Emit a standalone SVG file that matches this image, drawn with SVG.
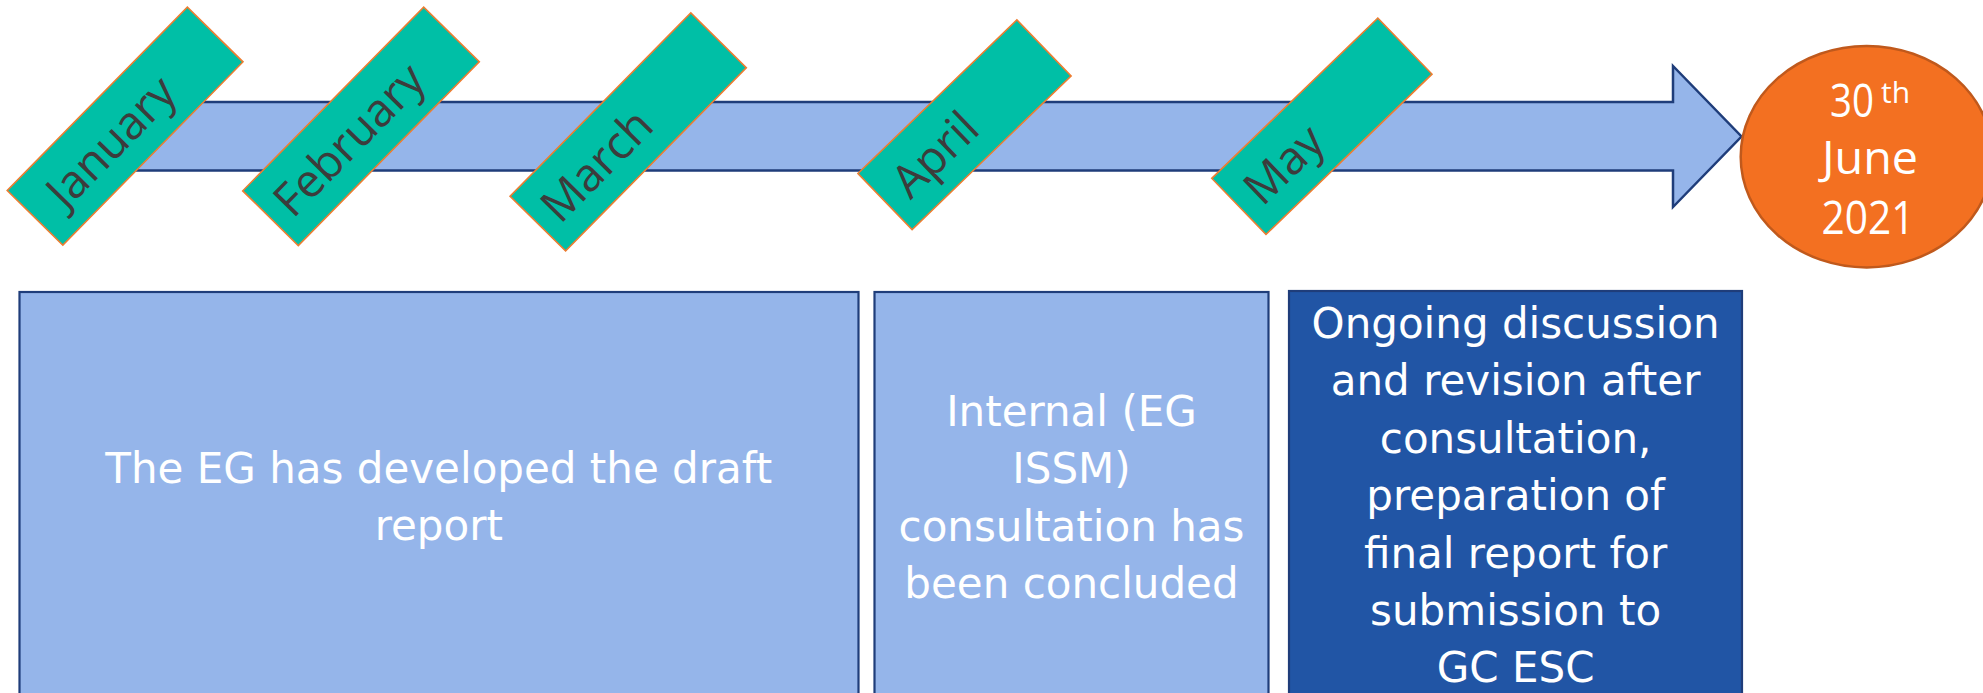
<svg xmlns="http://www.w3.org/2000/svg" width="1983" height="693" viewBox="0 0 1983 693">
<style>
.tag{fill:#00BFA6;stroke:#ED7D31;stroke-width:1.6}
.mon{font-family:"Open Sans","DejaVu Sans",sans-serif;font-size:46px;fill:#3C3C3C;text-anchor:middle}
.box{fill:#95B5EA;stroke:#1F3D7A;stroke-width:2.2}
.box3{fill:#2155A5;stroke:#1F3D7A;stroke-width:2.2}
.bt{font-family:"DejaVu Sans","Liberation Sans",sans-serif;font-size:42px;fill:#FFFFFF;text-anchor:middle}
.ct{font-family:"Open Sans","Liberation Sans",sans-serif;font-size:46px;fill:#FFFFFF;text-anchor:middle}
</style>
<rect width="1983" height="693" fill="#FFFFFF"/>
<g id="connectors">
<polygon id="timeline-arrow" points="100,102 1673,102 1673,66 1741.5,136.5 1673,207 1673,170.5 100,170.5" fill="#95B5EA" stroke="#1F3D7A" stroke-width="2.5" stroke-linejoin="miter"/>
</g>
<g id="tag-january" transform="translate(125.1,126.2) rotate(-45.5)">
<rect class="tag" x="-128.5" y="-39" width="257" height="78"/>
<text class="mon" x="-21" y="17">January</text>
</g>
<g id="tag-february" transform="translate(361,126.3) rotate(-45.45)">
<rect class="tag" x="-129" y="-39" width="258" height="78"/>
<text class="mon" x="-18" y="17">February</text>
</g>
<g id="tag-march" transform="translate(628.2,131.9) rotate(-45.4)">
<rect class="tag" x="-128.7" y="-39" width="257.4" height="78"/>
<text class="mon" x="-46" y="17">March</text>
</g>
<g id="tag-april" transform="translate(964.5,124.7) rotate(-44)">
<rect class="tag" x="-110.5" y="-39" width="221" height="78"/>
<text class="mon" x="-42" y="17">April</text>
</g>
<g id="tag-may" transform="translate(1321.9,126.25) rotate(-44)">
<rect class="tag" x="-115.4" y="-39" width="230.8" height="78"/>
<text class="mon" x="-54" y="17">May</text>
</g>
<g id="deadline">
<ellipse cx="1866.7" cy="156.7" rx="126" ry="110.7" fill="#F37021" stroke="#C0591C" stroke-width="2.5"/>
<text class="ct" y="117"><tspan x="1852" textLength="44" lengthAdjust="spacingAndGlyphs">30</tspan><tspan x="1881" dy="-14" font-size="30" text-anchor="start">th</tspan></text>
<text class="ct" x="1870" y="174" textLength="96" lengthAdjust="spacingAndGlyphs">June</text>
<text class="ct" x="1868" y="234" textLength="93" lengthAdjust="spacingAndGlyphs">2021</text>
</g>
<g id="box-draft">
<rect class="box" x="19.5" y="292" width="839" height="420"/>
<text class="bt" x="438.8" y="482.7">The EG has developed the draft</text>
<text class="bt" x="438.8" y="540">report</text>
</g>
<g id="box-consultation">
<rect class="box" x="874.5" y="292" width="394" height="420"/>
<text class="bt" x="1071.5" y="425.7">Internal (EG</text>
<text class="bt" x="1071.5" y="482.7">ISSM)</text>
<text class="bt" x="1071.5" y="541">consultation has</text>
<text class="bt" x="1071.5" y="598.3">been concluded</text>
</g>
<g id="box-final">
<rect class="box3" x="1289" y="291" width="453" height="420"/>
<text class="bt" x="1515.6" y="338">Ongoing discussion</text>
<text class="bt" x="1515.6" y="395.4">and revision after</text>
<text class="bt" x="1515.6" y="452.8">consultation,</text>
<text class="bt" x="1515.6" y="510.2">preparation of</text>
<text class="bt" x="1515.6" y="567.6">final report for</text>
<text class="bt" x="1515.6" y="625">submission to</text>
<text class="bt" x="1515.6" y="682.4">GC ESC</text>
</g>
</svg>
